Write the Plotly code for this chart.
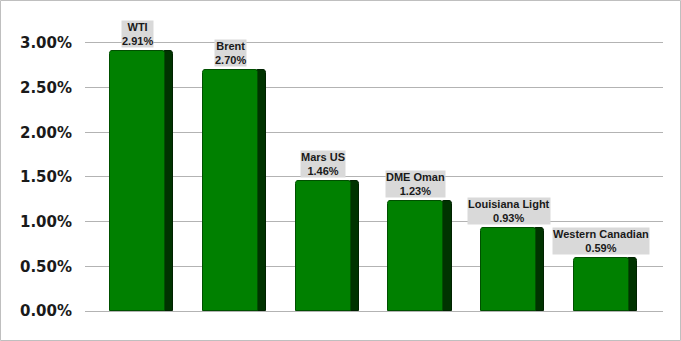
import plotly.graph_objects as go

categories = ["WTI", "Brent", "Mars US", "DME Oman", "Louisiana Light", "Western Canadian"]
values = [2.91, 2.70, 1.46, 1.23, 0.93, 0.59]
tick_vals = [0, 0.5, 1.0, 1.5, 2.0, 2.5, 3.0]
tick_text = ["0.00%", "0.50%", "1.00%", "1.50%", "2.00%", "2.50%", "3.00%"]

W, H = 681, 341
L, R, T, B = 85, 18, 20, 30
pw, ph = W - L - R, H - T - B

xs = list(range(len(categories)))
front_w = 0.593
side_w = 0.108

fig = go.Figure()
fig.add_trace(go.Bar(
    x=xs, y=values, width=side_w, offset=front_w / 2 - 0.02,
    marker=dict(color="#003300", line=dict(color="#002200", width=1), cornerradius=3),
    hoverinfo="skip", showlegend=False,
))
fig.add_trace(go.Bar(
    x=xs, y=values, width=front_w, offset=-front_w / 2,
    marker=dict(color="#008000", line=dict(color="#005000", width=1), cornerradius=3),
    showlegend=False,
))

for i, (c, v) in enumerate(zip(categories, values)):
    fig.add_annotation(
        x=i, y=v, text=f"{c}<br>{v:.2f}%", showarrow=False,
        xanchor="center", yanchor="bottom", yshift=3,
        bgcolor="#d9d9d9", borderpad=0,
        font=dict(family="Liberation Sans, Arial", size=11, color="#1a1a1a", weight="bold"),
    )

fig.add_shape(
    type="rect", xref="paper", yref="paper",
    x0=(0.5 - L) / pw, x1=(W - 0.5 - L) / pw,
    y0=(ph + T - (H - 0.5)) / ph, y1=(ph + T - 0.5) / ph,
    line=dict(color="#bfbfbf", width=1), layer="below",
)

fig.update_layout(
    width=W, height=H, margin=dict(l=L, r=R, t=T, b=B),
    paper_bgcolor="white", plot_bgcolor="white",
    barmode="overlay", bargap=0,
    xaxis=dict(range=[-0.566, 5.663], showticklabels=False, showgrid=False,
               zeroline=False, showline=False, fixedrange=True),
    yaxis=dict(range=[0, 3.257], tickvals=tick_vals, ticktext=tick_text,
               showgrid=True, gridcolor="#b3b3b3", gridwidth=1,
               zeroline=True, zerolinecolor="#b3b3b3", zerolinewidth=1,
               showline=False, ticks="", ticklabelstandoff=12,
               tickfont=dict(family="DejaVu Sans", size=15, color="#1a1a1a", weight="bold")),
)

fig.write_html("out.html")
